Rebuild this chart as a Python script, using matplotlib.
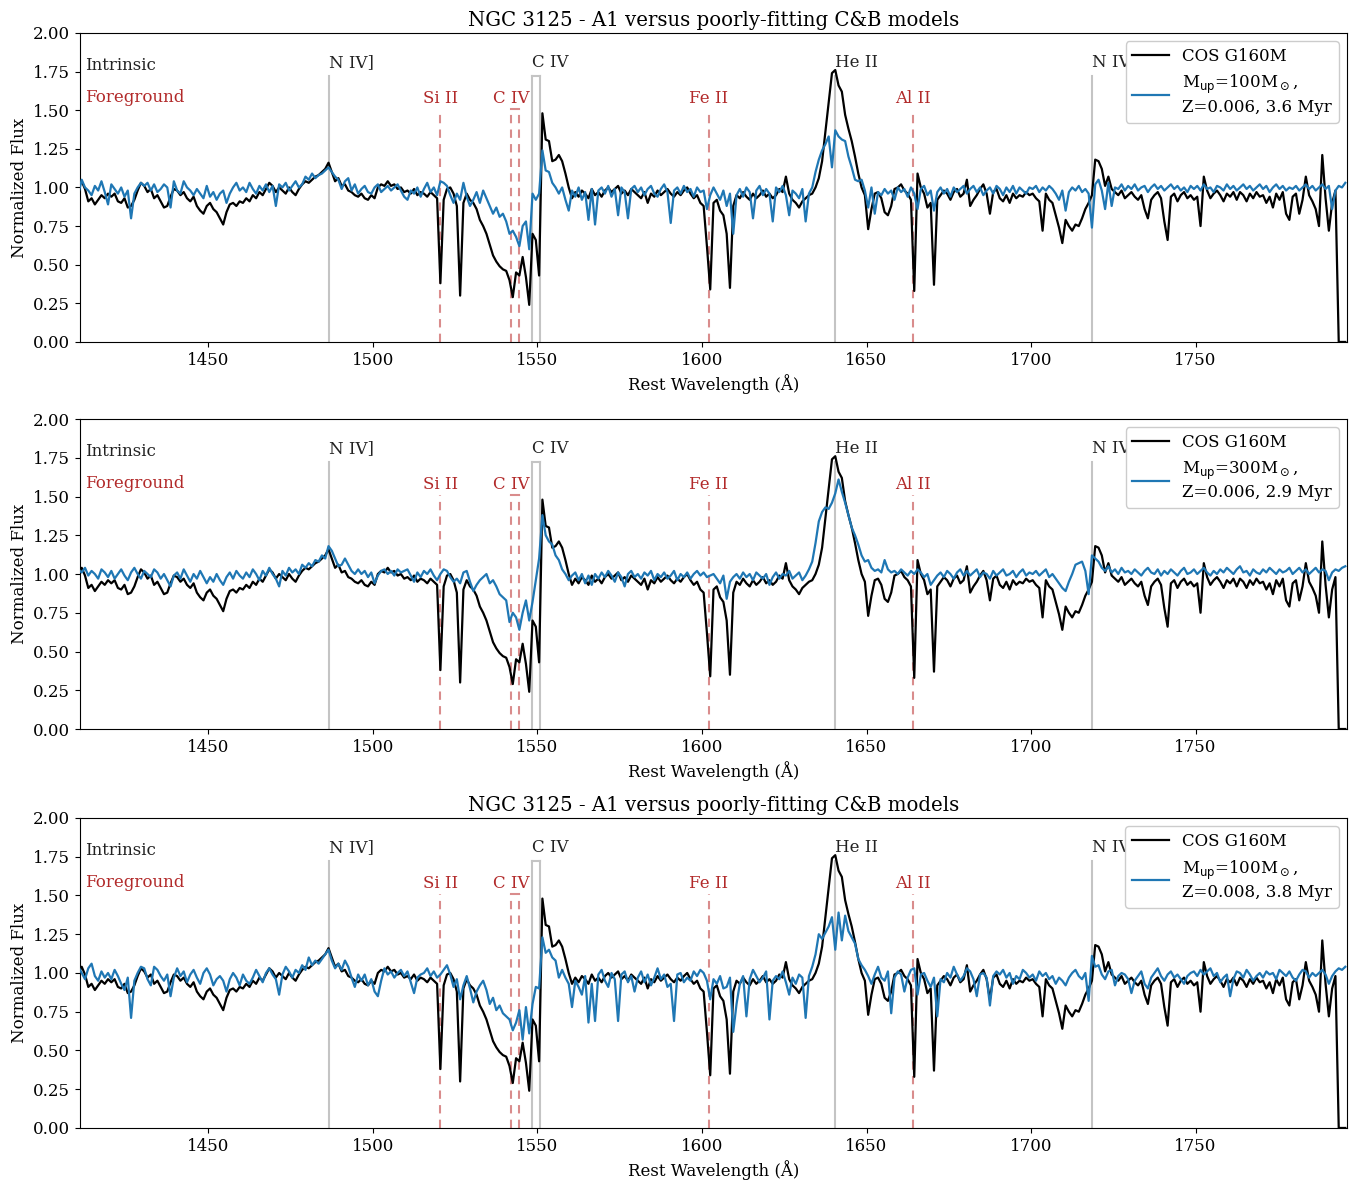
import numpy as np
import matplotlib
matplotlib.use("Agg")
import matplotlib.pyplot as plt

plt.rcParams['font.family'] = ['DejaVu Serif']
plt.rcParams['mathtext.fontset'] = 'dejavusans'

# Wavelength grid of the spectra (rest frame, Angstrom): 1410.5, 1411.5, ...
WAVE_START = 1410.5
WAVE_STEP = 1.0

# Observed COS G160M spectrum (normalized)
cos_g160m = [
    1.00, 1.04, 0.99, 0.91, 0.93, 0.89, 0.92, 0.95, 0.93, 0.96,   # 1410.5
    0.94, 0.96, 0.91, 0.90, 0.93, 0.87, 0.88, 0.92, 0.98, 1.03,   # 1420.5
    1.01, 0.97, 0.99, 0.93, 0.95, 0.91, 0.87, 0.88, 0.94, 0.99,   # 1430.5
    0.98, 0.95, 0.97, 0.93, 0.91, 0.94, 0.88, 0.85, 0.83, 0.88,   # 1440.5
    0.90, 0.86, 0.84, 0.80, 0.76, 0.84, 0.89, 0.90, 0.88, 0.91,   # 1450.5
    0.90, 0.93, 0.91, 0.95, 0.93, 0.97, 0.95, 0.99, 1.03, 1.01,   # 1460.5
    0.97, 1.00, 0.98, 0.96, 1.00, 0.97, 0.95, 0.99, 1.02, 1.04,   # 1470.5
    1.03, 1.05, 1.07, 1.08, 1.10, 1.12, 1.16, 1.10, 1.04, 1.06,   # 1480.5
    1.01, 1.02, 0.98, 0.97, 0.95, 0.94, 0.96, 0.93, 0.92, 0.95,   # 1490.5
    0.93, 1.00, 1.02, 1.01, 1.04, 1.01, 1.02, 0.99, 1.00, 0.97,   # 1500.5
    0.98, 0.96, 0.99, 0.95, 0.97, 0.96, 0.94, 0.97, 0.95, 0.93,   # 1510.5
    0.38, 0.92, 0.99, 1.00, 0.96, 0.88, 0.30, 0.90, 0.96, 0.92,   # 1520.5
    0.90, 0.86, 0.79, 0.75, 0.70, 0.63, 0.56, 0.52, 0.49, 0.47,   # 1530.5
    0.46, 0.40, 0.29, 0.45, 0.43, 0.55, 0.42, 0.24, 0.70, 0.66,   # 1540.5
    0.43, 1.48, 1.31, 1.30, 1.17, 1.18, 1.21, 1.17, 1.09, 1.00,   # 1550.5
    0.93, 0.97, 0.94, 0.98, 0.96, 0.93, 0.99, 0.95, 0.97, 0.94,   # 1560.5
    0.98, 1.00, 0.97, 0.99, 1.01, 0.96, 0.98, 0.95, 0.99, 0.97,   # 1570.5
    0.95, 0.93, 0.97, 0.90, 0.96, 0.94, 0.98, 0.95, 0.97, 0.99,   # 1580.5
    0.96, 0.94, 0.97, 0.95, 0.98, 1.00, 0.96, 0.93, 0.95, 0.90,   # 1590.5
    0.88, 0.62, 0.34, 0.90, 0.92, 0.85, 0.82, 0.70, 0.35, 0.88,   # 1600.5
    0.95, 0.93, 0.97, 0.94, 0.92, 0.96, 0.93, 0.95, 0.98, 0.94,   # 1610.5
    0.96, 0.93, 0.95, 0.99, 0.97, 1.07, 0.96, 0.92, 0.90, 0.87,   # 1620.5
    0.91, 0.93, 0.95, 0.96, 1.00, 1.06, 1.17, 1.36, 1.55, 1.74,   # 1630.5
    1.76, 1.66, 1.62, 1.47, 1.38, 1.30, 1.20, 1.09, 1.00, 0.95,   # 1640.5
    0.73, 0.86, 0.96, 0.97, 0.93, 0.84, 0.82, 0.88, 0.99, 1.00,   # 1650.5
    1.02, 0.98, 0.96, 0.92, 0.33, 1.09, 1.00, 0.96, 0.87, 0.90,   # 1660.5
    0.37, 0.92, 0.95, 0.98, 0.96, 0.92, 0.97, 0.99, 0.94, 0.96,   # 1670.5
    1.05, 0.88, 0.92, 0.95, 0.99, 1.02, 0.96, 0.83, 0.97, 0.99,   # 1680.5
    0.93, 0.91, 0.95, 0.90, 0.96, 0.93, 0.95, 0.94, 0.97, 0.95,   # 1690.5
    0.96, 0.93, 0.91, 0.72, 0.96, 0.92, 0.90, 0.82, 0.74, 0.64,   # 1700.5
    0.79, 0.75, 0.72, 0.76, 0.75, 0.80, 0.86, 0.90, 0.95, 1.18,   # 1710.5
    1.17, 1.12, 1.01, 1.07, 0.99, 0.97, 0.95, 0.98, 0.93, 0.95,   # 1720.5
    0.97, 0.94, 0.92, 0.95, 0.86, 0.80, 0.92, 0.95, 0.97, 0.93,   # 1730.5
    0.78, 0.66, 0.94, 0.96, 0.91, 0.95, 0.97, 0.93, 0.95, 0.92,   # 1740.5
    0.94, 0.75, 1.07, 0.98, 0.93, 0.96, 0.98, 0.95, 0.91, 0.96,   # 1750.5
    0.94, 0.97, 0.92, 0.97, 0.95, 0.91, 0.96, 0.93, 0.97, 0.94,   # 1760.5
    0.95, 0.90, 0.94, 0.87, 0.96, 0.92, 0.97, 0.83, 0.79, 0.94,   # 1770.5
    0.96, 0.83, 0.92, 1.07, 0.95, 0.91, 0.86, 0.75, 1.21, 0.93,   # 1780.5
    0.72, 0.90, 0.98, 0.00, 0.00, 0.00,                           # 1790.5
]

# C&B model: Mup=100 Msun, Z=0.006, 3.6 Myr
model_100_z006 = [
    0.96, 1.05, 1.00, 0.98, 0.95, 1.01, 0.98, 1.04, 0.97, 0.89,   # 1410.5
    1.02, 0.99, 0.96, 1.00, 0.94, 0.98, 0.80, 0.96, 1.00, 1.03,   # 1420.5
    1.01, 1.03, 0.98, 1.02, 0.97, 0.99, 1.02, 1.00, 0.87, 1.04,   # 1430.5
    0.98, 0.96, 1.04, 1.00, 0.98, 0.95, 0.99, 0.96, 0.93, 1.01,   # 1440.5
    0.94, 0.97, 0.92, 0.96, 0.98, 0.90, 0.96, 1.00, 1.03, 0.98,   # 1450.5
    1.00, 0.97, 1.03, 0.99, 0.96, 1.01, 0.98, 1.02, 0.97, 1.01,   # 1460.5
    0.88, 1.02, 1.00, 1.03, 0.98, 1.01, 1.04, 1.00, 1.02, 1.07,   # 1470.5
    1.05, 1.09, 1.06, 1.08, 1.09, 1.11, 1.13, 1.10, 1.07, 1.05,   # 1480.5
    0.99, 1.04, 1.06, 0.98, 1.02, 0.96, 0.99, 1.01, 0.97, 0.96,   # 1490.5
    1.00, 1.02, 0.97, 0.99, 1.01, 0.98, 1.00, 1.02, 0.98, 0.94,   # 1500.5
    0.92, 0.98, 0.96, 1.00, 0.94, 0.99, 1.03, 0.97, 1.00, 0.95,   # 1510.5
    1.04, 1.03, 1.01, 0.95, 0.90, 0.96, 0.92, 1.03, 0.94, 0.88,   # 1520.5
    0.92, 0.97, 0.90, 0.98, 0.93, 0.88, 0.83, 0.87, 0.81, 0.83,   # 1530.5
    0.78, 0.70, 0.72, 0.68, 0.62, 0.75, 0.78, 0.60, 0.96, 0.92,   # 1540.5
    0.96, 1.24, 1.11, 1.10, 1.03, 1.00, 0.96, 1.00, 0.92, 0.85,   # 1550.5
    0.98, 0.94, 1.00, 0.92, 0.97, 0.79, 0.99, 0.76, 0.98, 1.00,   # 1560.5
    0.96, 1.01, 0.94, 0.99, 0.82, 1.00, 0.97, 0.80, 0.99, 1.01,   # 1570.5
    0.97, 1.00, 0.95, 0.99, 1.01, 0.96, 0.94, 0.99, 1.02, 0.97,   # 1580.5
    0.77, 0.98, 1.00, 0.96, 1.01, 0.97, 0.99, 0.94, 1.00, 0.97,   # 1590.5
    0.98, 0.86, 0.95, 1.00, 0.96, 0.92, 0.98, 0.88, 0.96, 0.70,   # 1600.5
    0.95, 0.99, 0.94, 1.00, 0.97, 0.80, 0.98, 1.01, 0.95, 0.99,   # 1610.5
    0.96, 0.78, 1.00, 0.97, 1.01, 0.95, 0.82, 0.98, 0.96, 0.93,   # 1620.5
    0.99, 0.78, 0.96, 1.00, 1.10, 1.18, 1.24, 1.28, 1.33, 1.13,   # 1630.5
    1.37, 1.33, 1.31, 1.30, 1.20, 1.13, 1.05, 1.04, 1.05, 0.98,   # 1640.5
    0.87, 1.00, 0.83, 0.97, 0.95, 0.99, 0.96, 0.98, 0.92, 1.00,   # 1650.5
    0.97, 0.99, 0.94, 1.00, 0.96, 0.86, 0.99, 1.01, 0.95, 0.98,   # 1660.5
    0.85, 0.97, 1.00, 0.96, 0.99, 0.94, 1.00, 0.97, 0.99, 1.01,   # 1670.5
    0.96, 0.99, 1.01, 0.97, 1.00, 0.95, 0.98, 1.00, 0.96, 1.01,   # 1680.5
    0.99, 0.95, 1.00, 0.97, 1.01, 0.96, 1.00, 0.98, 0.96, 1.00,   # 1690.5
    0.99, 1.01, 0.97, 1.00, 0.98, 1.01, 0.99, 0.96, 0.92, 0.98,   # 1700.5
    0.85, 0.97, 1.00, 0.98, 1.01, 0.97, 0.99, 0.96, 0.74, 1.02,   # 1710.5
    1.05, 0.98, 0.86, 1.03, 0.88, 1.00, 0.99, 1.02, 0.98, 1.01,   # 1720.5
    0.99, 1.02, 0.98, 1.00, 1.01, 0.97, 1.00, 1.02, 0.99, 1.01,   # 1730.5
    0.98, 1.00, 1.02, 0.99, 1.01, 0.98, 1.00, 0.97, 1.01, 0.99,   # 1740.5
    1.01, 0.98, 1.02, 0.99, 1.00, 0.97, 1.01, 1.00, 0.98, 1.02,   # 1750.5
    0.99, 1.01, 0.98, 1.00, 1.02, 0.99, 1.01, 0.98, 1.00, 1.02,   # 1760.5
    0.99, 1.01, 0.97, 1.00, 1.02, 0.99, 1.01, 0.98, 1.00, 0.99,   # 1770.5
    1.01, 0.98, 1.00, 1.02, 0.99, 1.01, 0.98, 1.00, 1.02, 0.99,   # 1780.5
    1.01, 0.86, 0.98, 1.01, 1.00, 1.03,                           # 1790.5
]

# C&B model: Mup=300 Msun, Z=0.006, 2.9 Myr
model_300_z006 = [
    1.03, 1.01, 1.04, 0.99, 1.02, 1.00, 0.97, 1.03, 1.01, 0.98,   # 1410.5
    1.02, 0.97, 1.00, 1.03, 0.99, 0.96, 1.01, 1.04, 1.00, 0.97,   # 1420.5
    1.02, 1.00, 0.98, 1.03, 1.01, 0.97, 1.00, 0.96, 0.92, 0.99,   # 1430.5
    1.01, 0.97, 1.03, 0.99, 0.95, 1.00, 0.97, 1.02, 0.98, 0.94,   # 1440.5
    0.98, 0.95, 1.00, 0.96, 0.93, 0.98, 1.01, 0.97, 1.02, 0.99,   # 1450.5
    0.97, 1.01, 0.98, 1.03, 1.00, 0.96, 1.02, 0.99, 1.04, 1.00,   # 1460.5
    0.97, 0.92, 1.02, 0.99, 1.04, 1.01, 1.03, 1.00, 1.06, 1.04,   # 1470.5
    1.07, 1.05, 1.09, 1.08, 1.12, 1.10, 1.18, 1.15, 1.10, 1.05,   # 1480.5
    1.06, 1.10, 1.06, 1.02, 1.00, 1.03, 1.00, 1.02, 0.98, 1.01,   # 1490.5
    0.94, 0.99, 1.02, 1.03, 1.00, 1.02, 0.99, 1.03, 1.01, 1.02,   # 1500.5
    1.03, 0.99, 0.95, 1.01, 0.98, 1.02, 1.00, 1.03, 0.99, 0.96,   # 1510.5
    1.00, 1.03, 1.02, 0.98, 0.95, 0.97, 0.94, 1.01, 1.02, 0.95,   # 1520.5
    0.89, 0.93, 0.96, 0.98, 1.00, 0.94, 0.96, 0.92, 0.87, 0.85,   # 1530.5
    0.83, 0.69, 0.75, 0.72, 0.64, 0.75, 0.83, 0.70, 0.82, 0.96,   # 1540.5
    1.10, 1.38, 1.25, 1.21, 1.19, 1.12, 1.09, 1.03, 1.00, 0.96,   # 1550.5
    0.99, 1.01, 0.96, 1.00, 0.94, 0.99, 0.93, 1.00, 0.97, 1.01,   # 1560.5
    0.98, 1.02, 0.99, 0.95, 1.01, 0.98, 0.92, 1.00, 1.02, 0.98,   # 1570.5
    1.00, 0.97, 1.01, 0.99, 1.02, 0.96, 1.00, 0.98, 1.01, 0.97,   # 1580.5
    0.99, 1.02, 0.96, 1.00, 0.98, 1.01, 0.97, 1.00, 1.02, 0.99,   # 1590.5
    1.01, 0.98, 0.99, 1.00, 0.97, 0.94, 0.99, 0.84, 0.95, 0.98,   # 1600.5
    1.00, 0.97, 1.01, 0.98, 1.00, 0.96, 1.01, 0.99, 0.97, 1.00,   # 1610.5
    0.93, 0.98, 1.01, 0.97, 1.00, 0.99, 1.02, 0.97, 0.99, 1.01,   # 1620.5
    0.96, 0.99, 1.03, 1.08, 1.20, 1.34, 1.40, 1.43, 1.42, 1.46,   # 1630.5
    1.52, 1.61, 1.53, 1.46, 1.38, 1.30, 1.25, 1.19, 1.12, 1.08,   # 1640.5
    1.09, 1.04, 1.02, 1.03, 1.01, 1.09, 1.03, 1.01, 1.02, 1.00,   # 1650.5
    1.03, 1.01, 0.99, 1.02, 1.00, 1.03, 1.01, 0.98, 1.00, 0.93,   # 1660.5
    0.96, 0.99, 1.01, 0.98, 1.02, 1.00, 0.97, 1.01, 1.03, 0.99,   # 1670.5
    1.02, 0.99, 1.01, 1.03, 0.98, 1.01, 1.00, 0.97, 1.02, 0.99,   # 1680.5
    1.01, 1.03, 0.99, 1.00, 1.02, 0.98, 1.01, 1.03, 0.99, 1.01,   # 1690.5
    1.00, 1.02, 0.99, 1.01, 1.03, 0.98, 1.00, 0.97, 0.94, 0.91,   # 1700.5
    0.89, 0.95, 1.00, 1.06, 1.07, 1.08, 1.02, 0.87, 1.12, 1.10,   # 1710.5
    1.08, 1.04, 1.02, 1.05, 1.01, 1.03, 1.00, 1.04, 1.01, 1.02,   # 1720.5
    1.00, 1.03, 1.01, 0.99, 1.02, 1.04, 1.01, 1.00, 1.03, 0.99,   # 1730.5
    1.02, 1.00, 1.03, 1.01, 0.99, 1.02, 1.04, 1.00, 1.01, 1.03,   # 1740.5
    1.00, 1.02, 1.04, 1.01, 0.99, 1.02, 1.00, 1.03, 1.01, 1.04,   # 1750.5
    1.02, 1.00, 1.03, 1.05, 1.01, 1.02, 0.99, 1.03, 1.01, 1.00,   # 1760.5
    1.03, 1.01, 1.04, 1.02, 1.00, 1.03, 1.01, 1.02, 1.04, 1.00,   # 1770.5
    1.02, 1.04, 1.01, 1.03, 1.00, 1.02, 1.04, 1.01, 1.03, 1.02,   # 1780.5
    0.96, 1.01, 1.03, 1.02, 1.04, 1.05,                           # 1790.5
]

# C&B model: Mup=100 Msun, Z=0.008, 3.8 Myr
model_100_z008 = [
    1.04, 1.00, 0.96, 1.03, 1.06, 0.98, 0.95, 1.01, 0.97, 1.00,   # 1410.5
    0.96, 1.02, 0.98, 0.93, 0.89, 0.97, 0.71, 0.95, 1.00, 1.04,   # 1420.5
    1.03, 0.96, 0.92, 1.04, 1.02, 0.98, 0.95, 0.99, 0.85, 0.97,   # 1430.5
    1.03, 0.98, 1.01, 0.94, 0.99, 1.02, 0.97, 0.93, 1.00, 1.03,   # 1440.5
    0.99, 0.92, 0.96, 0.98, 0.95, 0.88, 0.96, 1.00, 0.97, 0.92,   # 1450.5
    0.99, 0.95, 0.93, 0.97, 1.02, 0.98, 0.94, 1.00, 1.03, 0.99,   # 1460.5
    0.96, 0.86, 0.99, 1.04, 1.01, 0.97, 1.02, 1.00, 1.05, 1.02,   # 1470.5
    1.10, 1.05, 1.08, 1.06, 1.09, 1.12, 1.15, 1.08, 1.03, 1.06,   # 1480.5
    1.02, 1.08, 1.04, 0.97, 0.91, 0.99, 0.95, 0.99, 0.92, 0.96,   # 1490.5
    0.88, 0.85, 0.95, 1.03, 0.99, 1.01, 0.97, 1.00, 1.02, 0.98,   # 1500.5
    1.01, 0.94, 0.87, 0.97, 0.99, 1.00, 1.03, 0.98, 1.01, 0.97,   # 1510.5
    0.99, 1.02, 1.05, 0.99, 0.91, 0.96, 0.83, 0.92, 0.98, 0.90,   # 1520.5
    0.81, 0.88, 0.92, 0.95, 0.89, 0.80, 0.84, 0.76, 0.79, 0.74,   # 1530.5
    0.72, 0.70, 0.63, 0.68, 0.76, 0.57, 0.78, 0.61, 0.80, 0.91,   # 1540.5
    0.90, 1.23, 1.13, 1.15, 1.10, 1.08, 0.97, 1.02, 0.97, 0.93,   # 1550.5
    0.78, 0.95, 0.91, 0.86, 0.98, 0.68, 0.93, 0.69, 0.99, 1.02,   # 1560.5
    0.95, 0.91, 1.00, 0.96, 0.69, 0.99, 1.01, 0.94, 0.98, 0.88,   # 1570.5
    0.97, 1.01, 0.94, 0.99, 0.92, 0.97, 1.03, 0.96, 0.99, 0.91,   # 1580.5
    0.93, 0.69, 0.99, 1.00, 0.94, 0.97, 0.95, 1.01, 0.98, 1.02,   # 1590.5
    1.00, 0.95, 0.83, 0.96, 0.93, 0.98, 0.90, 0.91, 0.97, 0.62,   # 1600.5
    0.80, 0.93, 0.98, 0.72, 0.96, 1.02, 0.98, 0.94, 0.97, 1.01,   # 1610.5
    0.70, 0.95, 0.98, 0.96, 1.01, 0.94, 0.86, 0.97, 0.93, 0.99,   # 1620.5
    0.97, 0.71, 0.98, 1.04, 1.12, 1.25, 1.22, 1.26, 1.30, 1.36,   # 1630.5
    1.15, 1.39, 1.21, 1.37, 1.27, 1.23, 1.19, 1.09, 1.05, 1.02,   # 1640.5
    0.98, 0.93, 0.99, 1.04, 0.97, 0.95, 1.01, 0.74, 0.97, 1.01,   # 1650.5
    0.99, 0.88, 0.97, 1.02, 1.03, 0.86, 0.99, 1.00, 0.95, 0.91,   # 1660.5
    0.97, 0.72, 0.96, 0.94, 1.00, 0.97, 1.04, 0.99, 0.95, 0.98,   # 1670.5
    1.03, 1.01, 0.96, 0.85, 0.99, 1.00, 0.97, 0.79, 0.98, 1.01,   # 1680.5
    0.99, 1.02, 0.97, 1.00, 0.93, 0.98, 0.96, 1.02, 1.00, 0.97,   # 1690.5
    0.99, 0.95, 1.01, 0.98, 1.00, 0.96, 0.98, 0.93, 0.97, 0.95,   # 1700.5
    0.92, 0.97, 1.00, 1.02, 0.98, 0.96, 1.00, 0.82, 1.11, 1.04,   # 1710.5
    1.05, 0.99, 0.96, 1.01, 1.02, 0.92, 0.98, 1.00, 0.99, 0.96,   # 1720.5
    0.87, 0.95, 0.98, 1.01, 0.93, 0.90, 0.97, 1.00, 1.03, 0.98,   # 1730.5
    0.95, 0.99, 1.01, 0.97, 0.99, 0.96, 0.93, 0.98, 1.00, 1.01,   # 1740.5
    0.98, 1.02, 0.99, 1.01, 1.03, 0.98, 1.00, 0.94, 0.97, 0.99,   # 1750.5
    0.85, 0.96, 1.01, 1.00, 0.97, 1.02, 0.99, 0.95, 0.98, 1.00,   # 1760.5
    0.97, 1.01, 0.99, 1.00, 0.96, 1.02, 1.00, 0.98, 1.01, 0.97,   # 1770.5
    0.95, 0.99, 1.02, 1.01, 0.97, 1.00, 0.98, 1.00, 1.02, 0.99,   # 1780.5
    0.93, 0.98, 1.01, 1.03, 1.02, 1.04,                           # 1790.5
]

# Line identifications
intrinsic_names = ["N IV]", "C IV", "He II", "N IV"]
intrinsic_waves = [[1486.5], [1548.2, 1550.8], [1640.4], [1718.5]]
foreground_names = ["Si II", "C IV", "Fe II", "Al II"]
foreground_waves = [[1520.5], [1541.9, 1544.4], [1602.0], [1664.0]]

panel_models = [model_100_z006, model_300_z006, model_100_z008]
panel_labels = [
    "M$_{\\rm up}$=100M$_\\odot$,\nZ=0.006, 3.6 Myr",
    "M$_{\\rm up}$=300M$_\\odot$,\nZ=0.006, 2.9 Myr",
    "M$_{\\rm up}$=100M$_\\odot$,\nZ=0.008, 3.8 Myr",
]
panel_titles = ["NGC 3125 - A1 versus poorly-fitting C&B models", None,
                "NGC 3125 - A1 versus poorly-fitting C&B models"]

XLIM = (1411.0, 1796.0)
YLIM = (0.0, 2.0)
INTR_TOP, FG_TOP = 1.72, 1.51
INTR_COLOR = "#c4c4c4"
FG_LINE_COLOR = "#d98c8c"
FG_TEXT_COLOR = "#b22a2a"

fig = plt.figure(figsize=(13.57, 11.80), dpi=100)
axes_rects = [
    [0.0590, 0.7102, 0.9336, 0.2619],
    [0.0590, 0.3822, 0.9336, 0.2627],
    [0.0590, 0.0441, 0.9336, 0.2627],
]


def wave_for(flux):
    return WAVE_START + WAVE_STEP * np.arange(len(flux))


def draw_marker(ax, waves, top, color, ls):
    for w in waves:
        ax.plot([w, w], [0, top], color=color, lw=1.5, ls=ls, zorder=1)
    if len(waves) == 2:
        ax.plot(waves, [top, top], color=color, lw=1.5, ls="-", zorder=1)


for rect, model, label, title in zip(axes_rects, panel_models, panel_labels, panel_titles):
    ax = fig.add_axes(rect)
    for name, waves in zip(intrinsic_names, intrinsic_waves):
        draw_marker(ax, waves, INTR_TOP, INTR_COLOR, "-")
        ax.text(waves[0], INTR_TOP + 0.035, name, ha="left", va="bottom",
                fontsize=12, color="#222222")
    for name, waves in zip(foreground_names, foreground_waves):
        draw_marker(ax, waves, FG_TOP, FG_LINE_COLOR, (0, (4, 3)))
        ax.text(waves[0], FG_TOP + 0.01, name, ha="center", va="bottom",
                fontsize=12, color=FG_TEXT_COLOR)
    ax.text(XLIM[0] + 1.6, 1.79, "Intrinsic", ha="left", va="center",
            fontsize=12, color="#222222")
    ax.text(XLIM[0] + 1.6, 1.585, "Foreground", ha="left", va="center",
            fontsize=12, color=FG_TEXT_COLOR)

    ax.plot(wave_for(cos_g160m), cos_g160m, color="black", lw=1.6,
            label="COS G160M", zorder=3)
    ax.plot(wave_for(model), model, color="#1f77b4", lw=1.6, label=label, zorder=4)

    ax.set_xlim(*XLIM)
    ax.set_ylim(*YLIM)
    ax.set_xticks([1450, 1500, 1550, 1600, 1650, 1700, 1750])
    ax.set_yticks(np.arange(0, 2.01, 0.25))
    ax.yaxis.set_major_formatter(matplotlib.ticker.FormatStrFormatter("%.2f"))
    ax.tick_params(labelsize=12)
    ax.set_xlabel("Rest Wavelength (Å)", fontsize=12)
    ax.set_ylabel("Normalized Flux", fontsize=12)
    if title:
        ax.set_title(title, fontsize=14.2, pad=5)
    leg = ax.legend(loc="upper right", fontsize=12, framealpha=1.0,
                    borderaxespad=0.5, handlelength=2.2)
    leg.set_zorder(6)

fig.savefig("out.png", dpi=100)
